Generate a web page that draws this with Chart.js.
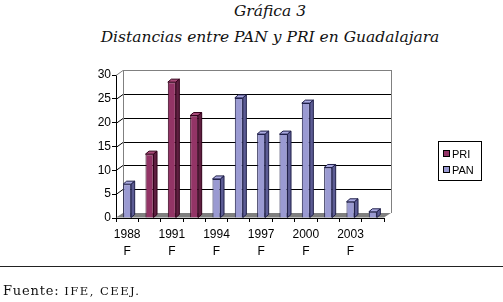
<!DOCTYPE html>
<html>
<head>
<meta charset="utf-8">
<script src="https://cdn.jsdelivr.net/npm/chart.js@4"></script>
<style>
  body { margin: 0; background: #fff; width: 503px; height: 302px; overflow: hidden; position: relative; }
  #chart { position: absolute; left: 0; top: 0; }
  .title { position: absolute; left: 0; width: 540px; text-align: center; font-family: "DejaVu Serif", serif; font-style: italic; font-size: 15.5px; color: #111; }
  #legend { position: absolute; left: 438px; top: 141px; width: 42px; height: 38px; border: 1px solid #000; font-family: "Liberation Sans", Arial, sans-serif; font-size: 11px; }
  #legend div { position: absolute; left: 4px; height: 14px; line-height: 14px; }
  #legend span { display: inline-block; width: 5px; height: 5px; border: 1px solid #000; margin-right: 2px; vertical-align: 1px; }
  #rule { position: absolute; left: 0; top: 266px; width: 503px; height: 1px; background: #222; }
  #source { position: absolute; left: 3px; top: 283px; font-family: "DejaVu Serif", serif; font-size: 13px; letter-spacing: 0.8px; color: #111; }
  #source small { font-size: 11.5px; letter-spacing: 1.5px; }
</style>
</head>
<body>
<div class="title" style="top:2px">Gráfica 3</div>
<div class="title" style="top:28px">Distancias entre PAN y PRI en Guadalajara</div>
<canvas id="chart" width="503" height="302"></canvas>
<div id="legend">
  <div style="top:5px"><span style="background:#933466"></span>PRI</div>
  <div style="top:21px"><span style="background:#9a9ad2"></span>PAN</div>
</div>
<div id="rule"></div>
<div id="source">Fuente: <small>IFE, CEEJ.</small></div>
<script>
// elecciones: F = federal, L = local (solo se rotulan las federales)
var years = ["1988","1988","1991","1992","1994","1995","1997","1997","2000","2000","2003","2003"];
var kinds = ["F","L","F","L","F","L","F","L","F","L","F","L"];
var pri = [null, 13.4, 28.5, 21.5, null, null, null, null, null, null, null, null];
var pan = [7.1, null, null, null, 8.2, 25.2, 17.6, 17.6, 24.1, 10.6, 3.4, 1.3];
var yTicks = [0, 5, 10, 15, 20, 25, 30];

var labels = years.map(function (y, i) { return [y, kinds[i]]; });

var DX = 7, DY = -5;     // back wall offset
var BX = 3.5, BY = -3;   // bar depth

var fake3d = {
  id: 'fake3d',
  beforeDatasetsDraw: function (chart) {
    var ctx = chart.ctx, a = chart.chartArea, y = chart.scales.y;
    var y0 = y.getPixelForValue(0);
    ctx.save();
    ctx.lineWidth = 1;
    // back wall
    ctx.fillStyle = '#fff';
    ctx.fillRect(a.left + DX, a.top + DY, a.right - a.left, y0 - a.top);
    // grid lines on wall
    yTicks.forEach(function (v) {
      if (v === 0) return;
      var p = Math.round(y.getPixelForValue(v)) + 0.5;
      ctx.strokeStyle = v === yTicks[yTicks.length - 1] ? '#808080' : '#000';
      ctx.beginPath();
      ctx.moveTo(a.left, p);
      ctx.lineTo(a.left + DX, p + DY);
      ctx.lineTo(a.right + DX, p + DY);
      ctx.stroke();
    });
    ctx.strokeStyle = '#808080';
    ctx.beginPath();
    ctx.moveTo(a.left + DX + 0.5, y0 + DY);
    ctx.lineTo(a.left + DX + 0.5, a.top + DY);
    ctx.moveTo(a.right + DX + 0.5, a.top + DY);
    ctx.lineTo(a.right + DX + 0.5, y0 + DY);
    ctx.stroke();
    // floor
    ctx.fillStyle = '#808080';
    ctx.beginPath();
    ctx.moveTo(a.left, y0 - 0.5);
    ctx.lineTo(a.right, y0 - 0.5);
    ctx.lineTo(a.right + DX, y0 + DY);
    ctx.lineTo(a.left + DX, y0 + DY);
    ctx.closePath();
    ctx.fill();
    ctx.restore();
  },
  afterDatasetsDraw: function (chart) {
    var ctx = chart.ctx;
    ctx.save();
    ctx.lineWidth = 1;
    chart.data.datasets.forEach(function (ds, di) {
      var meta = chart.getDatasetMeta(di);
      meta.data.forEach(function (el, i) {
        if (ds.data[i] == null) return;
        var p = el.getProps(['x', 'y', 'base', 'width'], true);
        var xl = p.x - p.width / 2, xr = p.x + p.width / 2;
        ctx.strokeStyle = ds.edge;
        // top face
        ctx.fillStyle = ds.topColor;
        ctx.beginPath();
        ctx.moveTo(xl, p.y);
        ctx.lineTo(xr, p.y);
        ctx.lineTo(xr + BX, p.y + BY);
        ctx.lineTo(xl + BX, p.y + BY);
        ctx.closePath();
        ctx.fill(); ctx.stroke();
        // side face
        ctx.fillStyle = ds.sideColor;
        ctx.beginPath();
        ctx.moveTo(xr, p.y);
        ctx.lineTo(xr + BX, p.y + BY);
        ctx.lineTo(xr + BX, p.base + BY);
        ctx.lineTo(xr, p.base);
        ctx.closePath();
        ctx.fill(); ctx.stroke();
      });
    });
    ctx.restore();
  }
};

new Chart(document.getElementById('chart'), {
  type: 'bar',
  data: {
    labels: labels,
    datasets: [{
      label: 'PRI',
      data: pri,
      backgroundColor: '#933466',
      borderColor: '#33001a',
      borderWidth: 1,
      topColor: '#a84a78',
      sideColor: '#5e1f40',
      edge: '#33001a'
    }, {
      label: 'PAN',
      data: pan,
      backgroundColor: '#9a9ad2',
      borderColor: '#20204a',
      borderWidth: 1,
      topColor: '#ababe2',
      sideColor: '#5c5c94',
      edge: '#20204a'
    }]
  },
  options: {
    responsive: false,
    animation: false,
    devicePixelRatio: 1,
    layout: { padding: { left: 86, right: 119, top: 75, bottom: 44 } },
    datasets: { bar: { grouped: false, categoryPercentage: 1, barPercentage: 0.36 } },
    plugins: { legend: { display: false }, tooltip: { enabled: false } },
    scales: {
      x: {
        afterFit: function (s) { s.height = 40; },
        grid: { drawOnChartArea: false, drawTicks: true, tickLength: 4, color: '#000', offset: true },
        border: { color: '#000' },
        ticks: {
          autoSkip: false, maxRotation: 0, padding: 4, color: '#000',
          font: { family: 'Liberation Sans', size: 12, lineHeight: 1.45 },
          callback: function (v, i) { return i % 2 === 0 ? this.getLabelForValue(v) : ''; }
        }
      },
      y: {
        min: 0, max: 30,
        afterFit: function (s) { s.width = 30; },
        grid: { drawOnChartArea: false, drawTicks: true, tickLength: 4, color: '#000' },
        border: { color: '#000' },
        ticks: {
          stepSize: 5, padding: 1, color: '#000',
          font: { family: 'Liberation Sans', size: 12 },
          callback: function (v) { return yTicks.indexOf(v) >= 0 ? v : ''; }
        }
      }
    }
  },
  plugins: [fake3d]
});
</script>
</body>
</html>
